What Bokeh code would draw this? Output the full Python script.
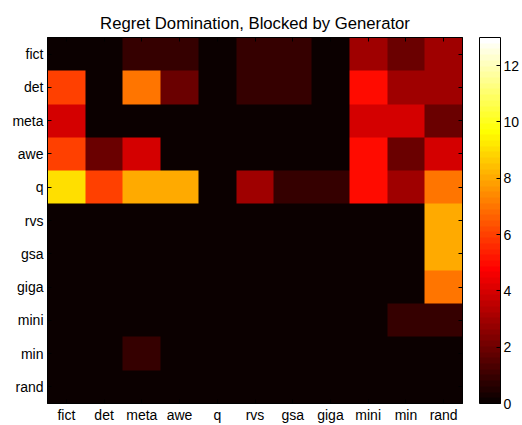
import numpy as np
from bokeh.plotting import figure
from bokeh.models import (LinearColorMapper, ColorBar, FixedTicker, LinearAxis,
                          Range1d, CustomJSTickFormatter)
from bokeh.embed import file_html
from bokeh.resources import INLINE

# ---- data ----
players = ["fict", "det", "meta", "awe", "q", "rvs", "gsa", "giga", "mini", "min", "rand"]
generators = ["fict", "det", "meta", "awe", "q", "rvs", "gsa", "giga", "mini", "min", "rand"]

row_fict = [0, 0, 1, 1, 0, 1, 1, 0, 3, 2, 3]
row_det  = [6, 0, 7, 2, 0, 1, 1, 0, 5, 3, 3]
row_meta = [4, 0, 0, 0, 0, 0, 0, 0, 4, 4, 2]
row_awe  = [6, 2, 4, 0, 0, 0, 0, 0, 5, 2, 4]
row_q    = [9, 6, 8, 8, 0, 3, 1, 1, 5, 3, 7]
row_rvs  = [0, 0, 0, 0, 0, 0, 0, 0, 0, 0, 8]
row_gsa  = [0, 0, 0, 0, 0, 0, 0, 0, 0, 0, 8]
row_giga = [0, 0, 0, 0, 0, 0, 0, 0, 0, 0, 7]
row_mini = [0, 0, 0, 0, 0, 0, 0, 0, 0, 1, 1]
row_min  = [0, 0, 1, 0, 0, 0, 0, 0, 0, 0, 0]
row_rand = [0, 0, 0, 0, 0, 0, 0, 0, 0, 0, 0]

color_low = 0
color_high = 13
colorbar_ticks = [0, 2, 4, 6, 8, 10, 12]

matrix = [row_fict, row_det, row_meta, row_awe, row_q, row_rvs,
          row_gsa, row_giga, row_mini, row_min, row_rand]

# ---- MATLAB "hot" colormap (64 entries) ----
def hot(m=64):
    n = int(3 * m / 8)
    pal = []
    for i in range(1, m + 1):
        r = min(1.0, i / n)
        g = min(1.0, max(0.0, (i - n) / n))
        b = min(1.0, max(0.0, (i - 2 * n) / (m - 2 * n)))
        pal.append("#%02x%02x%02x" % (round(r * 255), round(g * 255), round(b * 255)))
    return pal

palette = hot(64)
mapper = LinearColorMapper(palette=palette, low=color_low, high=color_high)

ncol, nrow = len(generators), len(players)
# image rows go bottom -> top, so flip the top-to-bottom matrix
img = np.array(matrix[::-1], dtype=float)

x_centers = [i + 0.5 for i in range(ncol)]
y_centers = [nrow - i - 0.5 for i in range(nrow)]   # first player at the top

FONT = "Liberation Sans"

p = figure(width=522, height=425, output_backend="svg", toolbar_location=None,
           x_range=Range1d(0, ncol), y_range=Range1d(0, nrow),
           title="Regret Domination, Blocked by Generator",
           min_border_left=47, min_border_top=37, min_border_bottom=10, min_border_right=59,
           border_fill_color="white")

p.image(image=[img], x=0, y=0, dw=ncol, dh=nrow, color_mapper=mapper)

p.title.align = "center"
p.title.text_font = FONT
p.title.text_font_size = "16.7px"
p.title.text_font_style = "normal"
p.title.text_color = "black"

p.xgrid.visible = False
p.ygrid.visible = False
p.outline_line_color = "black"
p.outline_line_width = 1
p.background_fill_color = "white"

p.xaxis[0].ticker = FixedTicker(ticks=x_centers)
p.xaxis[0].major_label_overrides = {x: g for x, g in zip(x_centers, generators)}
p.yaxis[0].ticker = FixedTicker(ticks=y_centers)
p.yaxis[0].major_label_overrides = {y: n for y, n in zip(y_centers, players)}

for ax in (p.xaxis[0], p.yaxis[0]):
    ax.major_label_text_font = FONT
    ax.major_label_text_font_size = "14px"
    ax.major_label_text_color = "black"
    ax.major_tick_in = 4
    ax.major_tick_out = 0
    ax.minor_tick_in = 0
    ax.minor_tick_out = 0
    ax.major_tick_line_color = "black"
    ax.axis_line_color = "black"
    ax.major_label_standoff = 4
p.xaxis[0].major_label_standoff = 3

# tick marks on the top and right edges (MATLAB box style), no labels
blank = CustomJSTickFormatter(code="return ''")
top_axis = LinearAxis(ticker=FixedTicker(ticks=x_centers),
                      formatter=blank, major_tick_in=4, major_tick_out=0,
                      minor_tick_in=0, minor_tick_out=0,
                      axis_line_color="black", major_label_standoff=0)
p.add_layout(top_axis, "above")

right_axis = LinearAxis(ticker=FixedTicker(ticks=y_centers),
                        formatter=blank, major_tick_in=4, major_tick_out=0,
                        minor_tick_in=0, minor_tick_out=0,
                        axis_line_color="black", major_label_standoff=0)
p.add_layout(right_axis, "right")

# invisible spacer between the plot and the colour bar
spacer_axis = LinearAxis(ticker=FixedTicker(ticks=y_centers),
                         formatter=blank, major_tick_in=0, major_tick_out=17,
                         major_tick_line_color=None, minor_tick_in=0, minor_tick_out=0,
                         axis_line_color=None, major_label_standoff=0)
p.add_layout(spacer_axis, "right")

cbar = ColorBar(color_mapper=mapper, ticker=FixedTicker(ticks=colorbar_ticks),
                width=21, padding=0, margin=0, bar_line_color="black",
                major_label_text_font=FONT, major_label_text_font_size="14px",
                major_label_text_color="black", major_tick_line_color="black",
                major_tick_in=4, major_tick_out=0, label_standoff=3,
                border_line_color=None, background_fill_color=None)
p.add_layout(cbar, "right")

open("out.html", "w").write(file_html(p, INLINE))
